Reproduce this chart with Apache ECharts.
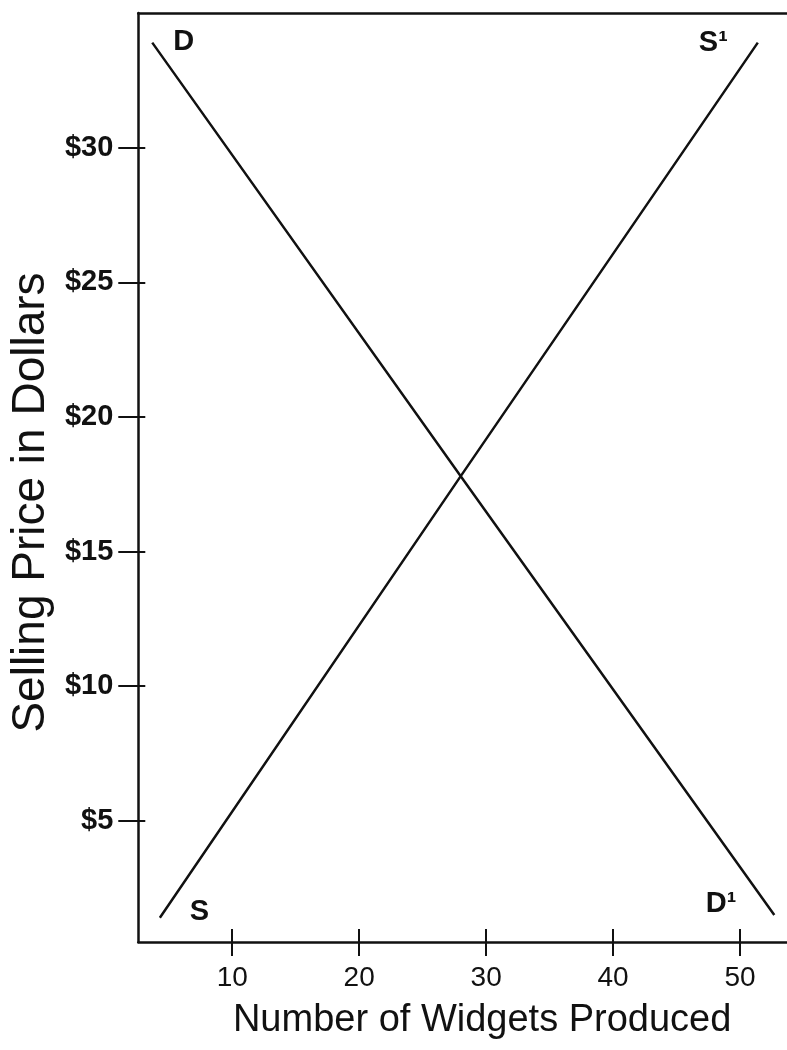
<!DOCTYPE html>
<html>
<head>
<meta charset="utf-8">
<script src="https://cdn.jsdelivr.net/npm/echarts@6/dist/echarts.min.js"></script>
<title>Supply and demand</title>
<style>
  html, body { margin: 0; padding: 0; background: #fff; }
</style>
</head>
<body>
<div id="main" style="width: 787px; height: 1050px;"></div>
<script type="text/javascript">
// values
var xTicks = [10, 20, 30, 40, 50];
var yTicks = [5, 10, 15, 20, 25, 30];
var demand = [[3.7, 33.9], [28, 17.8], [52.7, 1.5]];
var supply = [[4.3, 1.4], [28, 17.8], [51.4, 33.9]];
var curveNames = ['D', 'D¹', 'S', 'S¹'];

var font = '"Liberation Sans", Arial, Helvetica, sans-serif';
var ink = '#111';

var xRange = { min: 2.6, max: 53.7 };
var yRange = { min: 0.5, max: 35 };

function curveLabel(text, pos, dist, dy) {
  return {
    show: true, formatter: text, position: pos, distance: dist, offset: [0, dy],
    color: ink, fontFamily: font, fontSize: 29, fontWeight: 'bold'
  };
}

var demandData = demand.map(function (p) { return { value: p }; });
demandData[0].label = curveLabel(curveNames[0], 'right', 21, -1);
demandData[demandData.length - 1].label = curveLabel(curveNames[1], 'left', 38, -11);

var supplyData = supply.map(function (p) { return { value: p }; });
supplyData[0].label = curveLabel(curveNames[2], 'right', 30, -6);
supplyData[supplyData.length - 1].label = curveLabel(curveNames[3], 'left', 30, 0);

var myChart = echarts.init(document.getElementById('main'));
myChart.setOption({
  animation: false,
  backgroundColor: '#fff',
  grid: { left: 134, top: 13, right: 0, bottom: 108 },
  xAxis: [
    {
      type: 'value', min: xRange.min, max: xRange.max, position: 'bottom',
      name: 'Number of Widgets Produced', nameLocation: 'middle', nameGap: 60,
      nameTextStyle: { color: ink, fontFamily: font, fontSize: 38, padding: [0, 0, 0, 39] },
      splitLine: { show: false },
      axisLine: { show: true, onZero: false, lineStyle: { color: ink, width: 2.5 } },
      axisTick: { show: true, customValues: xTicks, length: 14, lineStyle: { color: ink, width: 2 } },
      axisLabel: { customValues: xTicks, margin: 22, color: ink, fontFamily: font, fontSize: 28 }
    },
    {
      // inner half of the crossing ticks
      type: 'value', min: xRange.min, max: xRange.max, position: 'bottom',
      splitLine: { show: false }, axisLine: { show: false },
      axisTick: { show: true, inside: true, customValues: xTicks, length: 13, lineStyle: { color: ink, width: 2 } },
      axisLabel: { show: false }
    },
    {
      // top frame line
      type: 'value', min: xRange.min, max: xRange.max, position: 'top',
      splitLine: { show: false },
      axisLine: { show: true, lineStyle: { color: ink, width: 2.5 } },
      axisTick: { show: false }, axisLabel: { show: false }
    }
  ],
  yAxis: [
    {
      type: 'value', min: yRange.min, max: yRange.max, position: 'left',
      name: 'Selling Price in Dollars', nameLocation: 'middle', nameGap: 82,
      nameTextStyle: { color: ink, fontFamily: font, fontSize: 46, padding: [0, 50, 0, 0] },
      splitLine: { show: false },
      axisLine: { show: true, onZero: false, lineStyle: { color: ink, width: 2.5 } },
      axisTick: { show: true, customValues: yTicks, length: 20, lineStyle: { color: ink, width: 2 } },
      axisLabel: {
        customValues: yTicks, margin: 25, color: ink, fontFamily: font, fontSize: 29, fontWeight: 'bold',
        formatter: function (v) { return '$' + v; }
      }
    },
    {
      type: 'value', min: yRange.min, max: yRange.max, position: 'left',
      splitLine: { show: false }, axisLine: { show: false },
      axisTick: { show: true, inside: true, customValues: yTicks, length: 7, lineStyle: { color: ink, width: 2 } },
      axisLabel: { show: false }
    }
  ],
  series: [
    {
      name: 'Demand', type: 'line', data: demandData,
      symbol: 'circle', symbolSize: 0, showSymbol: true,
      lineStyle: { color: ink, width: 2.5 }, itemStyle: { color: ink }
    },
    {
      name: 'Supply', type: 'line', data: supplyData,
      symbol: 'circle', symbolSize: 0, showSymbol: true,
      lineStyle: { color: ink, width: 2.5 }, itemStyle: { color: ink }
    }
  ]
});
</script>
</body>
</html>
